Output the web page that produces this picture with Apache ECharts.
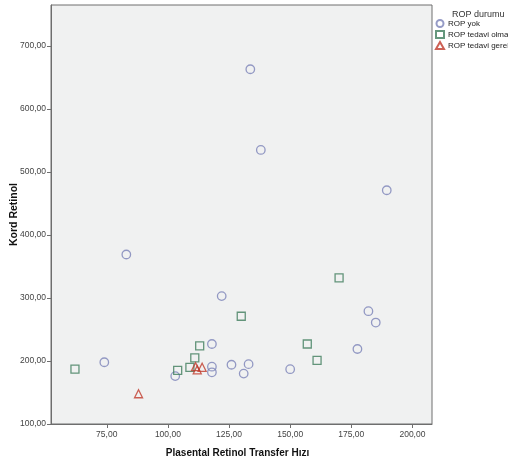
<!DOCTYPE html>
<html>
<head>
<meta charset="utf-8">
<script src="https://cdn.jsdelivr.net/npm/echarts@6/dist/echarts.min.js"></script>
<style>
  html, body { margin: 0; padding: 0; background: #fff; }
  #chart { width: 508px; height: 460px; }
</style>
</head>
<body>
<div id="chart"></div>
<script>
// ROP durumu gruplari: [Plasental Retinol Transfer Hizi, Kord Retinol]
let ropYok = [
  [133.7, 663], [138, 535], [189.5, 471], [83, 369], [122, 303],
  [182, 279], [185, 261], [118, 227], [177.5, 219], [74, 198],
  [133, 195], [126, 194], [118, 191], [150, 187], [118, 182],
  [131, 180], [103, 176],
];
let ropTedaviOlmayan = [
  [170, 332], [130, 271], [157, 227], [113, 224], [111, 205],
  [161, 201], [109, 190], [62, 187], [104, 185],
];
let ropTedaviGereken = [
  [111.3, 191], [112, 186], [114, 190], [88, 148],
];
let groupNames = ["ROP yok", "ROP tedavi olmayan", "ROP tedavi gereken"];
let xTicks = [75, 100, 125, 150, 175, 200];
let yTicks = [100, 200, 300, 400, 500, 600, 700];

const fontFam = "Liberation Sans, Arial, sans-serif";

function fmt(v) {
  return v.toFixed(2).replace(".", ",");
}

function makeSeries(name, data, symbol, color, size) {
  return {
    name: name,
    type: "scatter",
    data: data,
    symbol: symbol,
    symbolSize: size,
    itemStyle: {
      color: "rgba(0,0,0,0)",
      borderColor: color,
      borderWidth: 1.3,
    },
    emphasis: { disabled: true },
  };
}

let chart = echarts.init(document.getElementById("chart"), null, { renderer: "canvas" });

chart.setOption({
  animation: false,
  backgroundColor: "#ffffff",
  title: {
    text: "ROP durumu",
    left: 452,
    top: 10,
    padding: 0,
    textStyle: { fontFamily: fontFam, fontSize: 9, fontWeight: "normal", color: "#333" },
  },
  legend: {
    orient: "vertical",
    left: 435,
    top: 19,
    itemWidth: 8,
    itemHeight: 7,
    itemGap: 2,
    padding: 0,
    data: groupNames,
    textStyle: { fontFamily: fontFam, fontSize: 8, lineHeight: 7, color: "#222", padding: [0, 0, 0, -1] },
  },
  grid: {
    left: 51,
    right: 76,
    top: 5,
    bottom: 36,
    outerBoundsMode: "none",
    containLabel: false,
    show: true,
    backgroundColor: "#f0f1f1",
    borderColor: "#6e6e6e",
    borderWidth: 1,
  },
  xAxis: {
    type: "value",
    min: 52.2,
    max: 208,
    name: "Plasental Retinol Transfer Hızı",
    nameLocation: "middle",
    nameGap: 24,
    nameMoveOverlap: false,
    nameTextStyle: { fontFamily: fontFam, fontSize: 10, fontWeight: "bold", color: "#111", padding: [0, 8, 0, 0] },
    splitLine: { show: false },
    axisLine: { show: true, onZero: false, lineStyle: { color: "#6e6e6e", width: 1 } },
    axisTick: { show: true, length: 4, customValues: xTicks, lineStyle: { color: "#6e6e6e" } },
    axisLabel: {
      customValues: xTicks,
      formatter: fmt,
      fontFamily: fontFam,
      fontSize: 8.5,
      color: "#444",
      margin: 6,
    },
  },
  yAxis: {
    type: "value",
    min: 100,
    max: 765,
    name: "Kord Retinol",
    nameLocation: "middle",
    nameGap: 31,
    nameMoveOverlap: false,
    nameTextStyle: { fontFamily: fontFam, fontSize: 10.5, fontWeight: "bold", color: "#111" },
    splitLine: { show: false },
    axisLine: { show: true, onZero: false, lineStyle: { color: "#6e6e6e", width: 1 } },
    axisTick: { show: true, length: 4, customValues: yTicks, lineStyle: { color: "#6e6e6e" } },
    axisLabel: {
      customValues: yTicks,
      formatter: fmt,
      fontFamily: fontFam,
      fontSize: 8.5,
      color: "#444",
      margin: 5,
    },
  },
  series: [
    makeSeries(groupNames[0], ropYok, "circle", "#7b82b8", 8.5),
    makeSeries(groupNames[1], ropTedaviOlmayan, "rect", "#3f7d5c", 8),
    makeSeries(groupNames[2], ropTedaviGereken, "triangle", "#c0392b", 8),
  ],
});
</script>
</body>
</html>
